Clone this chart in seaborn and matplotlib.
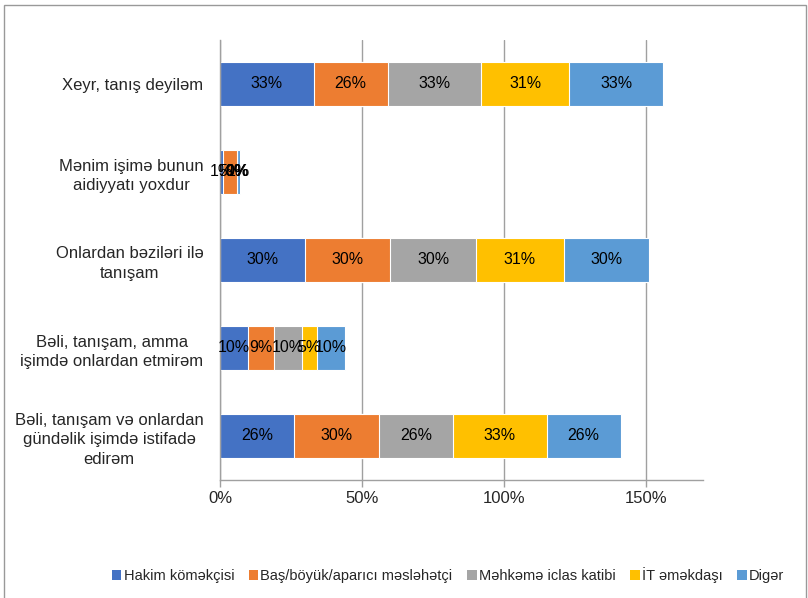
import matplotlib
matplotlib.use("Agg")
import matplotlib.pyplot as plt
from matplotlib.patches import Patch, Rectangle
import seaborn as sns
import pandas as pd
import numpy as np

categories = [
    "Xeyr, tanış deyiləm",
    "Mənim işimə bunun\naidiyyatı yoxdur",
    "Onlardan bəziləri ilə\ntanışam",
    "Bəli, tanışam, amma\nişimdə onlardan etmirəm",
    "Bəli, tanışam və onlardan\ngündəlik işimdə istifadə\nedirəm",
]
series_names = ["Hakim köməkçisi", "Baş/böyük/aparıcı məsləhətçi",
                "Məhkəmə iclas katibi", "İT əməkdaşı", "Digər"]
hakim = [33, 1, 30, 10, 26]
bas = [26, 5, 30, 9, 30]
katib = [33, 0, 30, 10, 26]
it = [31, 0, 31, 5, 33]
diger = [33, 1, 30, 10, 26]
colors = ["#4472C4", "#ED7D31", "#A5A5A5", "#FFC000", "#5B9BD5"]

sns.set_theme(style="white")
plt.rcParams["font.family"] = ["Liberation Sans", "DejaVu Sans"]

df = pd.DataFrame({"category": categories})
for name, vals in zip(series_names, [hakim, bas, katib, it, diger]):
    df[name] = vals
cum = df[series_names].cumsum(axis=1)
left = cum - df[series_names]

fig = plt.figure(figsize=(8.08, 5.98), dpi=100)
ax = fig.add_axes([220 / 808, 1 - 480 / 598, (703 - 220) / 808, 440 / 598])

# draw cumulative totals from the back so the bars look stacked
for name, col in reversed(list(zip(series_names, colors))):
    sns.barplot(x=cum[name], y=df["category"], color=col, width=0.51,
                edgecolor="white", linewidth=0.8, saturation=1, ax=ax,
                orient="h")

for name in series_names:
    for i, v in enumerate(df[name]):
        ax.text(left[name][i] + v / 2, i, f"{v}%", ha="center", va="center",
                fontsize=11.5, color="black")

ax.set_xlim(0, 170)
ax.set_ylim(4.5, -0.5)
ax.set_xticks([0, 50, 100, 150])
ax.set_xticklabels(["0%", "50%", "100%", "150%"])
ax.set_xlabel("")
ax.set_ylabel("")
ax.grid(axis="x", color="#a0a0a0", linewidth=1)
ax.set_axisbelow(True)
for s in ["top", "right"]:
    ax.spines[s].set_visible(False)
for s in ["left", "bottom"]:
    ax.spines[s].set_color("#a0a0a0")
    ax.spines[s].set_linewidth(1)
ax.set_yticks(np.arange(-0.5, 5, 1), minor=True)
ax.tick_params(axis="y", which="major", length=0, pad=12, labelsize=12)
ax.tick_params(axis="y", which="minor", length=4, color="#a0a0a0", width=1)
ax.tick_params(axis="x", length=5, color="#a0a0a0", width=1, pad=3,
               labelsize=12, bottom=True)
for lbl in ax.get_yticklabels():
    lbl.set_multialignment("center")
    lbl.set_linespacing(1.4)

handles = [Patch(facecolor=c, edgecolor="none") for c in colors]
fig.legend(handles, series_names, loc="center", bbox_to_anchor=(448 / 808, 1 - 575 / 598),
           ncol=5, frameon=False, fontsize=10.5, handlelength=0.65, handleheight=0.65,
           handletextpad=0.15, columnspacing=1.0)

fig.patches.append(Rectangle((4 / 808, -0.02), 802 / 808, 1 - 5 / 598 + 0.02,
                             transform=fig.transFigure, fill=False,
                             edgecolor="#999999", linewidth=1))

fig.savefig("out.png", dpi=100)
